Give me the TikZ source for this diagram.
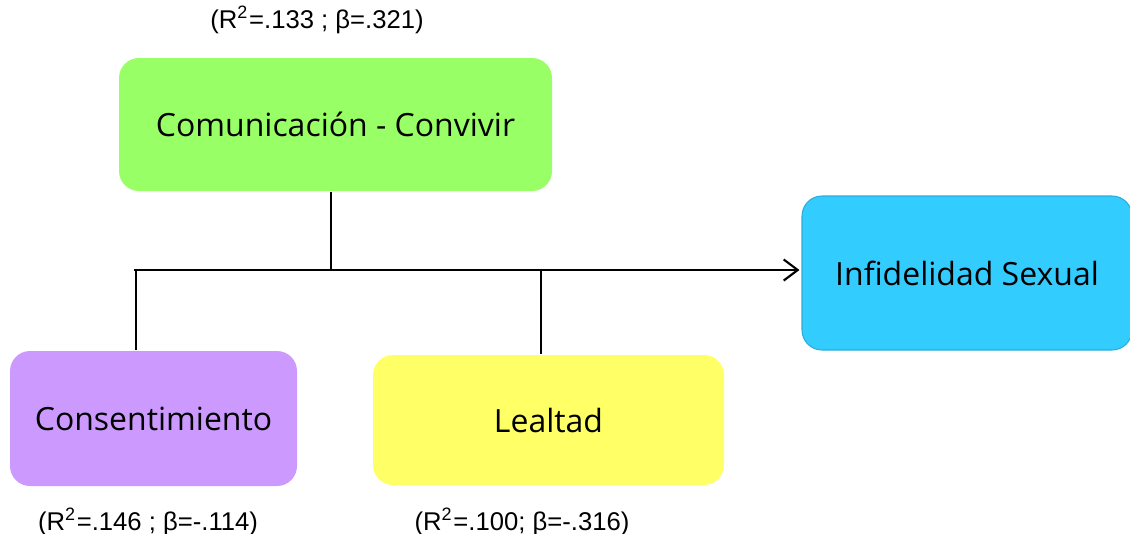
\documentclass[tikz,border=0pt]{standalone}
\usepackage{fontspec}
\setmainfont{Open Sans}
\newfontfamily\statfont{Liberation Sans}
\usetikzlibrary{calc,arrows.meta}
\definecolor{boxgreen}{HTML}{99FF66}
\definecolor{boxblue}{HTML}{33CCFF}
\definecolor{boxpurple}{HTML}{CC99FF}
\definecolor{boxyellow}{HTML}{FFFF66}
\newcommand{\Round}{0.2cm}
\tikzset{Factor/.style={
    rounded corners=\Round,
    inner sep=0pt,
    align=center,
    font=\fontsize{9.1}{11}\selectfont,
    },
  Stat/.style={font=\statfont\fontsize{7.3}{8.5}\selectfont, inner sep=0pt},
  Link/.style={draw=black, line width=0.6pt},
}

\begin{document}
\begin{tikzpicture}
\useasboundingbox (0,0) rectangle (11.3,5.33);
% factor boxes
\node [Factor, fill=boxgreen, minimum width=4.33cm, minimum height=1.33cm] (com) at (3.355,4.085) {Comunicación - Convivir};
\node [Factor, fill=boxblue, draw=boxblue!85!black, line width=0.3pt, minimum width=3.3cm, minimum height=1.54cm] (inf) at (9.67,2.60) {Infidelidad Sexual};
\node [Factor, fill=boxpurple, minimum width=2.87cm, minimum height=1.35cm] (con) at (1.535,1.145) {Consentimiento};
\node [Factor, fill=boxyellow, minimum width=3.51cm, minimum height=1.30cm] (leal) at (5.485,1.13) {Lealtad};
% coefficients
\node [Stat] (comstat) at (3.17,5.13) {(R\textsuperscript{2}=.133 ; β=.321)};
\node [Stat] (constat) at (1.48,0.11) {(R\textsuperscript{2}=.146 ; β=-.114)};
\node [Stat] (lealstat) at (5.22,0.11) {(R\textsuperscript{2}=.100; β=-.316)};
% branch points on the common line
\coordinate (jl) at (1.36,2.63);
\coordinate (jc) at (3.31,2.63);
\coordinate (jr) at (5.41,2.63);
\draw [Link] (com.south -| jc) -- (jc);
\draw [Link] (jl) -- (jl |- con.north);
\draw [Link] (jr) -- (jr |- leal.north);
\draw [Link, -{Straight Barb[length=4pt,width=6pt]}] ($(jl)+(-0.02,0)$) -- ($(inf.west |- jl)+(-0.02,0)$);
\end{tikzpicture}
\end{document}
